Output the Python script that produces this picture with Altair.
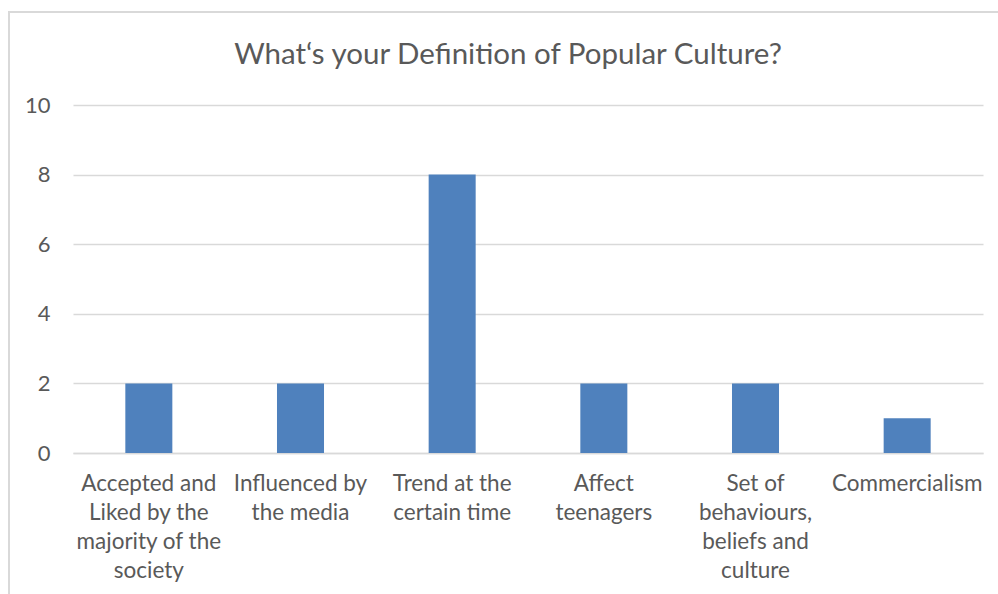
import altair as alt
import pandas as pd

categories = [
    "Accepted and|Liked by the|majority of the|society",
    "Influenced by|the media",
    "Trend at the|certain time",
    "Affect|teenagers",
    "Set of|behaviours,|beliefs and|culture",
    "Commercialism",
]
values = [2, 2, 8, 2, 2, 1]
y_ticks = [0, 2, 4, 6, 8, 10]
title_text = "What‘s your Definition of Popular Culture?"

df = pd.DataFrame({"category": categories, "value": values})

FONT = "Lato"
TXT = "#595959"
GRID = "#d9d9d9"

bars = alt.Chart(df).mark_bar(color="#4f81bd").encode(
    x=alt.X(
        "category:N",
        sort=categories,
        title=None,
        scale=alt.Scale(paddingInner=0.69, paddingOuter=0.345),
        axis=alt.Axis(
            labelExpr="split(datum.value, '|')",
            labelAngle=0,
            labelFont=FONT,
            labelFontSize=22.5,
            labelColor=TXT,
            labelLineHeight=29,
            labelPadding=19,
            labelBaseline="top",
            ticks=False,
            domainColor=GRID,
            domainWidth=1.5,
            labelLimit=300,
        ),
    ),
    y=alt.Y(
        "value:Q",
        title=None,
        scale=alt.Scale(domain=[0, 10]),
        axis=alt.Axis(
            values=y_ticks,
            labelFont=FONT,
            labelFontSize=22,
            labelColor=TXT,
            labelPadding=23,
            ticks=False,
            domain=False,
            gridColor=GRID,
            gridWidth=1.5,
        ),
    ),
)

frame = alt.Chart(df).mark_rect(fill=None, stroke=GRID, strokeWidth=1.5).encode(
    x=alt.value(-64), x2=alt.value(940), y=alt.value(-93), y2=alt.value(600)
)

chart = alt.layer(frame, bars).properties(
    width=910,
    height=348,
    autosize=alt.AutoSizeParams(type="none"),
    padding={"left": 73, "top": 105, "right": 15, "bottom": 141},
    title=alt.TitleParams(
        title_text,
        font=FONT,
        fontSize=29.5,
        fontWeight="normal",
        color=TXT,
        anchor="middle",
        baseline="alphabetic",
        dx=-20,
        offset=-82,
    ),
).configure_view(stroke=None)

chart.save("out.html", embed_options={"renderer": "svg", "actions": False})
